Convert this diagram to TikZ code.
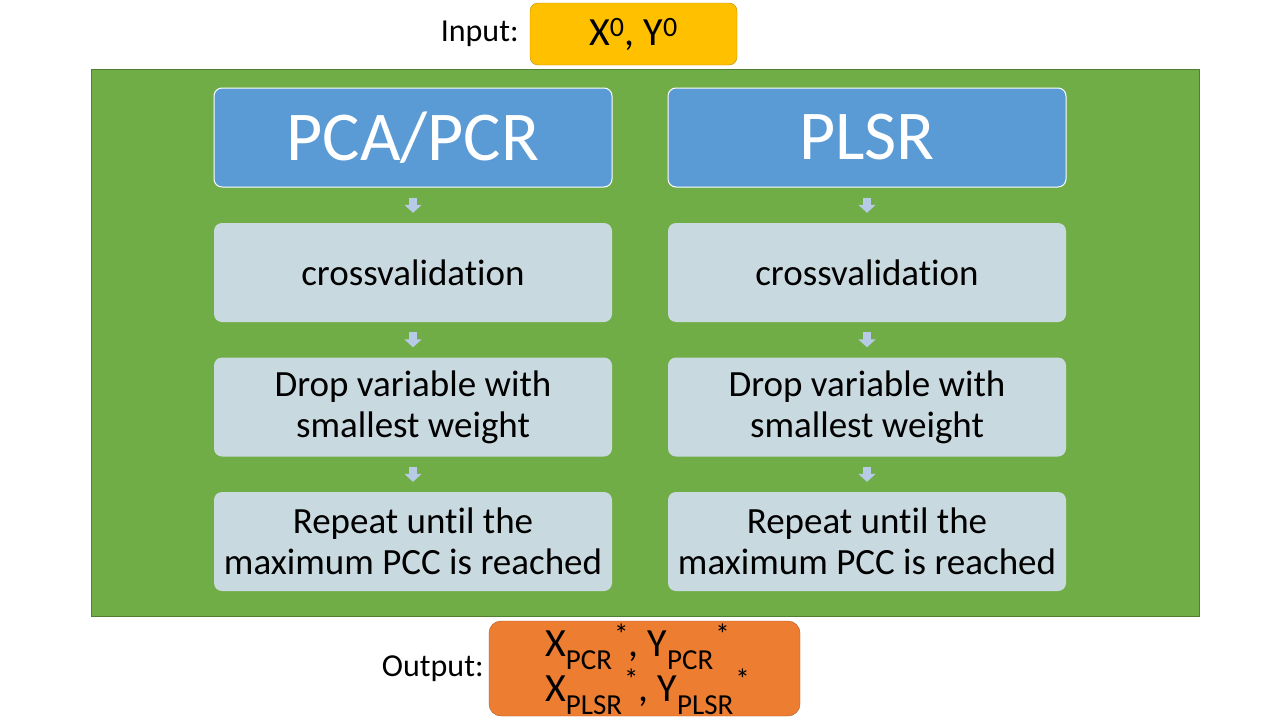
\documentclass[tikz,border=0pt]{standalone}
\usepackage{fontspec}
\setmainfont{Carlito}[Ligatures=NoCommon]
\usetikzlibrary{arrows.meta, positioning}

\definecolor{panelgreen}{HTML}{70AD47}
\definecolor{paneledge}{HTML}{507E32}
\definecolor{headblue}{HTML}{5B9BD5}
\definecolor{stepgray}{HTML}{C9D9E0}
\definecolor{flowblue}{HTML}{B7CBE6}
\definecolor{ingold}{HTML}{FFC000}
\definecolor{ingoldedge}{HTML}{BC8C00}
\definecolor{outorange}{HTML}{ED7D31}
\definecolor{outorangeedge}{HTML}{AE5A21}

% Variable with a method subscript and a star after it.
\newcommand{\starvar}[2]{#1\smash{\raisebox{-13pt}{\fontsize{29}{29}\selectfont #2}}%
  \kern2pt\smash{\raisebox{12pt}{\fontsize{29}{29}\selectfont *}}}

\begin{document}
\begin{tikzpicture}[x=1pt, y=-1pt, font=\fontsize{32}{40}\selectfont]
      \tikzstyle{box}=[rounded corners=8pt, minimum width=398pt, minimum height=99pt,
        inner sep=0pt, align=center]
      \tikzstyle{head}=[box, fill=headblue, draw=white, line width=1pt, text=white,
        font=\fontsize{70}{70}\selectfont]
      \tikzstyle{stepbox}=[box, fill=stepgray, font=\fontsize{37}{41}\selectfont]
      \tikzstyle{flow}=[draw=flowblue, fill=flowblue, line width=8pt,
        -{Triangle[width=17pt,length=8pt]}, shorten <=10pt, shorten >=10pt]
      \tikzstyle{tag}=[inner sep=0pt]

      \useasboundingbox (0,0) rectangle (1280,720);

      % Green panel behind both columns.
      \node[fill=panelgreen, draw=paneledge, minimum width=1108pt, minimum height=547pt]
        (panel) at (645,342.5) {};

      % Input on top.
      \node[fill=ingold, draw=ingoldedge, rounded corners=8pt, minimum width=207pt,
        minimum height=62pt, font=\fontsize{40}{40}\selectfont]
        (in) at (633.5,34)
        {X\textsuperscript{0}, Y\textsuperscript{0}};
      \node[tag, left=11pt of in] (in_lbl) {Input:};

      % Left column: PCA/PCR.
      \node[head] (t_1) at (413,137.5) {PCA/PCR};
      \node[stepbox] (c_1) at (413,272.5) {crossvalidation};
      \node[stepbox] (d_1) at (413,407) {Drop variable with\\smallest weight};
      \node[stepbox] (r_1) at (413,541.5) {Repeat until the\\maximum PCC is reached};

      % Right column: PLSR.
      \node[head] (t_2) at (867,137.5) {PLSR};
      \node[stepbox] (c_2) at (867,272.5) {crossvalidation};
      \node[stepbox] (d_2) at (867,407) {Drop variable with\\smallest weight};
      \node[stepbox] (r_2) at (867,541.5) {Repeat until the\\maximum PCC is reached};

      % Output at the bottom.
      \node[fill=outorange, draw=outorangeedge, rounded corners=12pt, minimum width=311pt,
        minimum height=95pt, inner sep=0pt, align=left, font=\fontsize{40}{45}\selectfont]
        (out) at (644.5,668.5)
        {\hspace*{6pt}\starvar{X}{PCR}, \starvar{Y}{PCR}\\
         \hspace*{6pt}\starvar{X}{PLSR}, \starvar{Y}{PLSR}};
      \node[tag, left=5pt of out] (out_lbl) {Output:};

      % Small arrows between the steps.
      \draw[flow] (t_1) -- (c_1);
      \draw[flow] (c_1) -- (d_1);
      \draw[flow] (d_1) -- (r_1);
      \draw[flow] (t_2) -- (c_2);
      \draw[flow] (c_2) -- (d_2);
      \draw[flow] (d_2) -- (r_2);
\end{tikzpicture}
\end{document}
